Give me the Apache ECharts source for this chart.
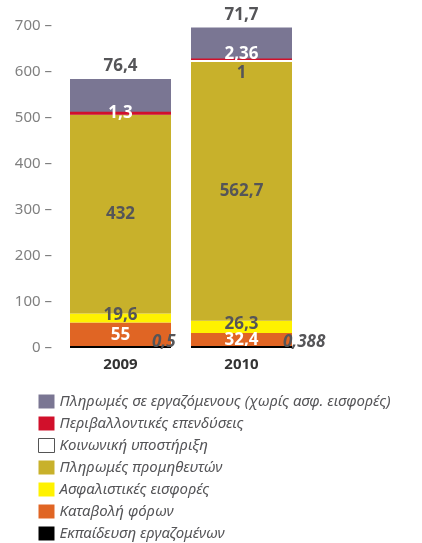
<!DOCTYPE html>
<html>
<head>
<meta charset="utf-8">
<script src="https://cdn.jsdelivr.net/npm/echarts@6.0.0/dist/echarts.min.js"></script>
<style>
  html, body { margin: 0; padding: 0; background: #fff; }
  #chart { width: 422px; height: 543px; }
</style>
</head>
<body>
<div id="chart"></div>
<script>
  // data
  var years = ['2009', '2010'];
  var education = [0.5, 0.388];      // Εκπαίδευση εργαζομένων
  var taxes = [55, 32.4];            // Καταβολή φόρων
  var insurance = [19.6, 26.3];      // Ασφαλιστικές εισφορές
  var suppliers = [432, 562.7];      // Πληρωμές προμηθευτών
  var social = [null, 1];            // Κοινωνική υποστήριξη
  var environment = [1.3, 2.36];     // Περιβαλλοντικές επενδύσεις
  var employees = [76.4, 71.7];      // Πληρωμές σε εργαζόμενους
  var yTicks = [0, 100, 200, 300, 400, 500, 600, 700];

  var names = {
    employees: 'Πληρωμές σε εργαζόμενους (χωρίς ασφ. εισφορές)',
    environment: 'Περιβαλλοντικές επενδύσεις',
    social: 'Κοινωνική υποστήριξη',
    suppliers: 'Πληρωμές προμηθευτών',
    insurance: 'Ασφαλιστικές εισφορές',
    taxes: 'Καταβολή φόρων',
    education: 'Εκπαίδευση εργαζομένων'
  };

  var font = 'Noto Sans';
  var dark = '#555558';

  function fmt(p) {
    return String(p.value).replace('.', ',');
  }

  function lbl(extra) {
    var base = {
      show: true,
      formatter: fmt,
      fontFamily: font,
      fontWeight: 'bold',
      fontSize: 17,
      color: dark
    };
    for (var k in extra) base[k] = extra[k];
    return base;
  }

  function bar(name, data, color, label, more) {
    var s = {
      name: name,
      type: 'bar',
      stack: 'total',
      barWidth: 101,
      data: data,
      itemStyle: { color: color },
      label: label,
      emphasis: { disabled: true }
    };
    for (var k in more) s[k] = more[k];
    return s;
  }

  var chart = echarts.init(document.getElementById('chart'));
  chart.setOption({
    animation: false,
    grid: { left: 60, right: 120, top: 26, bottom: 195 },
    legend: {
      orient: 'vertical',
      left: 38,
      top: 394,
      padding: 0,
      icon: 'rect',
      itemWidth: 16,
      itemHeight: 14,
      itemGap: 7,
      selectedMode: false,
      textStyle: { fontFamily: font, fontStyle: 'italic', fontSize: 15, color: dark },
      data: [
        names.employees,
        names.environment,
        { name: names.social, itemStyle: { color: '#fff', borderColor: '#555', borderWidth: 1 } },
        names.suppliers,
        names.insurance,
        names.taxes,
        names.education
      ]
    },
    xAxis: {
      type: 'category',
      data: years,
      axisLine: { show: false },
      axisTick: { show: false },
      axisLabel: { fontFamily: font, fontWeight: 'bold', fontSize: 15, color: '#333', margin: 9 }
    },
    yAxis: {
      type: 'value',
      min: yTicks[0],
      max: yTicks[yTicks.length - 1],
      interval: 100,
      splitLine: { show: false },
      axisLine: { show: false },
      axisTick: { show: false },
      axisLabel: { formatter: '{value} –', fontFamily: font, fontSize: 15, color: '#808080', margin: 8 }
    },
    series: [
      // thin slices get a minimum height and are drawn above their neighbours
      bar(names.education, education.map(function (v, i) {
        return { value: v, label: { offset: [[-24, -5], [-14, -5]][i] } };
      }), '#000', lbl({ position: 'right', fontStyle: 'italic' }), { barMinHeight: 2, z: 3 }),
      bar(names.taxes, taxes, '#e06524', lbl({ position: 'inside', color: '#fff' })),
      bar(names.insurance, insurance, '#fff200', lbl({ position: 'inside', offset: [0, -3] })),
      bar(names.suppliers, suppliers, '#c8b12b', lbl({ position: 'inside' })),
      bar(names.social, social, '#fff', lbl({ position: 'bottom', distance: 3 }), { barMinHeight: 2, z: 4 }),
      bar(names.environment, environment.map(function (v, i) {
        return { value: v, label: { offset: [[0, 10], [0, 4]][i] } };
      }), '#d1102b', lbl({ position: 'top', distance: 0, color: '#fff' }), { barMinHeight: 3, z: 3 }),
      bar(names.employees, employees, '#7a7693', lbl({ position: 'top', distance: 4 }))
    ]
  });
</script>
</body>
</html>
